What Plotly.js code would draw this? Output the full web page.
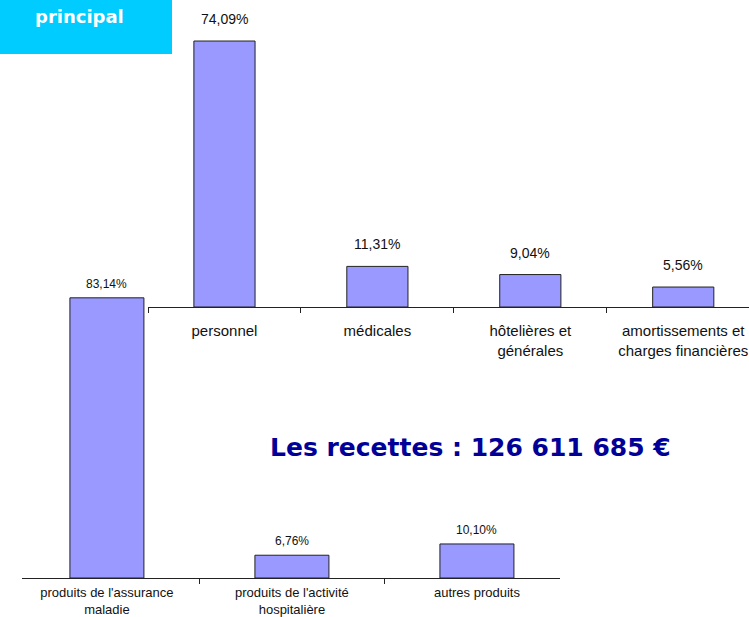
<!DOCTYPE html>
<html><head><meta charset="utf-8">
<script src="https://cdn.plot.ly/plotly-3.0.1.min.js"></script>
<style>html,body{margin:0;padding:0;overflow:hidden;background:#fff}</style>
</head><body><div id="chart" style="width:749px;height:617px"></div>
<script>
// Dépenses (top chart)
const depCategories = ["personnel", "médicales", "hôtelières et<br>générales", "amortissements et<br>charges financières"];
const depValues = [74.09, 11.31, 9.04, 5.56];
const depLabels = ["74,09%", "11,31%", "9,04%", "5,56%"];
// Recettes (bottom chart)
const recCategories = ["produits de l'assurance<br>maladie", "produits de l'activité<br>hospitalière", "autres produits"];
const recValues = [83.14, 6.76, 10.10];
const recLabels = ["83,14%", "6,76%", "10,10%"];
const titleText = "Les recettes : 126 611 685 €";
const boxText = "principal";

const W = 749, H = 617;
const barColor = "#9999FF";
const font = "Liberation Sans, Arial, sans-serif";

const traces = [
  {type: "bar", x: depCategories, y: depValues, xaxis: "x", yaxis: "y",
   marker: {color: barColor, line: {color: "#222", width: 1}}, hoverinfo: "none"},
  {type: "bar", x: recCategories, y: recValues, xaxis: "x2", yaxis: "y2",
   marker: {color: barColor, line: {color: "#222", width: 1}}, hoverinfo: "none"}
];

const annotations = [];
depCategories.forEach((c, i) => annotations.push({
  x: c, y: depValues[i], xref: "x", yref: "y", text: depLabels[i], showarrow: false,
  xanchor: "center", yanchor: "bottom", yshift: 12, font: {family: font, size: 14, color: "#111"}
}));
recCategories.forEach((c, i) => annotations.push({
  x: c, y: recValues[i], xref: "x2", yref: "y2", text: recLabels[i], showarrow: false,
  xanchor: "center", yanchor: "bottom", yshift: 5, font: {family: font, size: 12, color: "#111"}
}));
annotations.push({
  x: 470/W, y: 1 - 447/H, xref: "paper", yref: "paper", text: "<b>" + titleText + "</b>",
  xanchor: "center", yanchor: "middle",
  showarrow: false, font: {family: "DejaVu Sans, sans-serif", size: 25, color: "#000099"}
});
annotations.push({
  x: 79/W, y: 1 - 17/H, xref: "paper", yref: "paper", text: "<b>" + boxText + "</b>",
  xanchor: "center", yanchor: "middle",
  showarrow: false, font: {family: "DejaVu Sans, sans-serif", size: 18, color: "#ffffff"}
});

const axisCommon = {
  type: "category", showgrid: false, zeroline: false, showline: true,
  linecolor: "#222", linewidth: 1, ticks: "outside", tickson: "boundaries",
  ticklen: 5, tickcolor: "#222", fixedrange: true
};

const layout = {
  width: W, height: H, margin: {l: 0, r: 0, t: 0, b: 0},
  paper_bgcolor: "#fff", plot_bgcolor: "rgba(0,0,0,0)",
  showlegend: false, bargap: 0.6,
  xaxis: Object.assign({}, axisCommon, {
    domain: [148/W, 1], range: [-0.5, 3.43], anchor: "y", ticklabelstandoff: 10,
    tickfont: {family: font, size: 15, color: "#111"}
  }),
  yaxis: {domain: [1 - 307/H, 1], range: [0, 307/3.59], visible: false, fixedrange: true, anchor: "x"},
  xaxis2: Object.assign({}, axisCommon, {
    domain: [22/W, 560/W], range: [-0.459, 2.449], anchor: "y2", ticklabelstandoff: 2,
    tickfont: {family: font, size: 13, color: "#111"}
  }),
  yaxis2: {domain: [1 - 578/H, 1], range: [0, 578/3.37], visible: false, fixedrange: true, anchor: "x2"},
  annotations: annotations,
  shapes: [{type: "rect", xref: "paper", yref: "paper", x0: 0, x1: 172/W, y0: 1 - 54/H, y1: 1,
            fillcolor: "#00CCFF", line: {width: 0}, layer: "below"}]
};

Plotly.newPlot("chart", traces, layout, {displayModeBar: false, staticPlot: true});
</script></body></html>
